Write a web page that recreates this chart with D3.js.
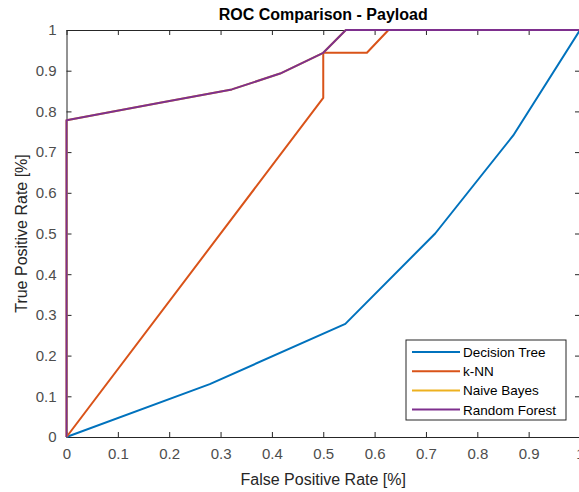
<!DOCTYPE html>
<html>
<head>
<meta charset="utf-8">
<script src="https://cdn.jsdelivr.net/npm/d3@7"></script>
<style>
  html, body { margin: 0; padding: 0; background: #fff; overflow: hidden; }
  svg { display: block; font-family: "Liberation Sans", Arial, sans-serif; }
</style>
</head>
<body>
<svg id="chart" width="579" height="492"></svg>
<script>
// ROC curves, one array of [fpr, tpr] points per classifier
const seriesNames = ["Decision Tree", "k-NN", "Naive Bayes", "Random Forest"];
const seriesColors = ["#0072BD", "#D95319", "#EDB120", "#7E2F8E"];

const decisionTree = [[0, 0], [0.279, 0.130], [0.543, 0.278], [0.718, 0.5], [0.87, 0.741], [1, 1]];
const knn = [[0, 0], [0.5, 0.833], [0.5, 0.944], [0.585, 0.944], [0.627, 1], [1, 1]];
const naiveBayes = [[0, 0], [0, 0.778], [0.19, 0.823], [0.322, 0.854], [0.416, 0.893], [0.5, 0.944], [0.544, 1], [1, 1]];
const randomForest = [[0, 0], [0, 0.778], [0.19, 0.823], [0.322, 0.854], [0.416, 0.893], [0.5, 0.944], [0.544, 1], [1, 1]];

const xTicks = [0, 0.1, 0.2, 0.3, 0.4, 0.5, 0.6, 0.7, 0.8, 0.9, 1];
const yTicks = [0, 0.1, 0.2, 0.3, 0.4, 0.5, 0.6, 0.7, 0.8, 0.9, 1];

const series = [decisionTree, knn, naiveBayes, randomForest];

const svg = d3.select("#chart");
const axisColor = "#262626";

// plot box (right edge runs slightly past the window)
const plotLeft = 66.5, plotRight = 580, plotTop = 30, plotBottom = 437;

const x = d3.scaleLinear().domain([0, 1]).range([plotLeft, plotRight]);
const y = d3.scaleLinear().domain([0, 1]).range([plotBottom, plotTop]);

const fmt = d => d === 0 || d === 1 ? d3.format("d")(d) : d3.format(".1f")(d);

function styleAxis(g) {
  g.select(".domain").attr("stroke", axisColor).attr("stroke-width", 1);
  g.selectAll(".tick line").attr("stroke", axisColor);
  g.selectAll(".tick text")
    .attr("fill", "#4d4d4d")
    .attr("font-size", "15px")
    .attr("font-family", "Liberation Sans, Arial, sans-serif");
}

// bottom / left axes with inward ticks
svg.append("g")
  .attr("transform", `translate(0,${plotBottom})`)
  .call(d3.axisBottom(x).tickValues(xTicks).tickFormat(fmt).tickSizeInner(-5).tickSizeOuter(0).tickPadding(11))
  .call(styleAxis);

svg.append("g")
  .attr("transform", `translate(${plotLeft},0)`)
  .call(d3.axisLeft(y).tickValues(yTicks).tickFormat(fmt).tickSizeInner(-5).tickSizeOuter(0).tickPadding(10))
  .call(styleAxis);

// top / right axes, ticks only (box on)
svg.append("g")
  .attr("transform", `translate(0,${plotTop})`)
  .call(d3.axisTop(x).tickValues(xTicks).tickFormat("").tickSizeInner(-5).tickSizeOuter(0))
  .call(styleAxis);

svg.append("g")
  .attr("transform", `translate(${plotRight},0)`)
  .call(d3.axisRight(y).tickValues(yTicks).tickFormat("").tickSizeInner(-5).tickSizeOuter(0))
  .call(styleAxis);

// curves
const line = d3.line().x(d => x(d[0])).y(d => y(d[1]));

svg.append("g")
  .selectAll("path")
  .data(series)
  .join("path")
  .attr("d", line)
  .attr("fill", "none")
  .attr("stroke", (d, i) => seriesColors[i])
  .attr("stroke-width", 2)
  .attr("stroke-linejoin", "round");

// labels
svg.append("text")
  .attr("x", (plotLeft + plotRight) / 2)
  .attr("y", 20)
  .attr("text-anchor", "middle")
  .attr("font-size", "16px")
  .attr("font-weight", "bold")
  .attr("fill", "#000")
  .text("ROC Comparison - Payload");

svg.append("text")
  .attr("x", (plotLeft + plotRight) / 2)
  .attr("y", 485)
  .attr("text-anchor", "middle")
  .attr("font-size", "16px")
  .attr("fill", axisColor)
  .text("False Positive Rate [%]");

svg.append("text")
  .attr("transform", `translate(27,${(plotTop + plotBottom) / 2}) rotate(-90)`)
  .attr("text-anchor", "middle")
  .attr("font-size", "16px")
  .attr("fill", axisColor)
  .text("True Positive Rate [%]");

// legend
const legend = svg.append("g").attr("transform", "translate(406,340)");
legend.append("rect")
  .attr("width", 160)
  .attr("height", 80)
  .attr("fill", "#fff")
  .attr("stroke", axisColor)
  .attr("stroke-width", 1);

const rows = legend.selectAll("g.row")
  .data(seriesNames)
  .join("g")
  .attr("class", "row")
  .attr("transform", (d, i) => `translate(0,${12 + i * 19.2})`);

rows.append("line")
  .attr("x1", 6).attr("x2", 54)
  .attr("stroke", (d, i) => seriesColors[i])
  .attr("stroke-width", 2);

rows.append("text")
  .attr("x", 57)
  .attr("y", 5)
  .attr("font-size", "13.5px")
  .attr("fill", "#000")
  .text(d => d);
</script>
</body>
</html>
